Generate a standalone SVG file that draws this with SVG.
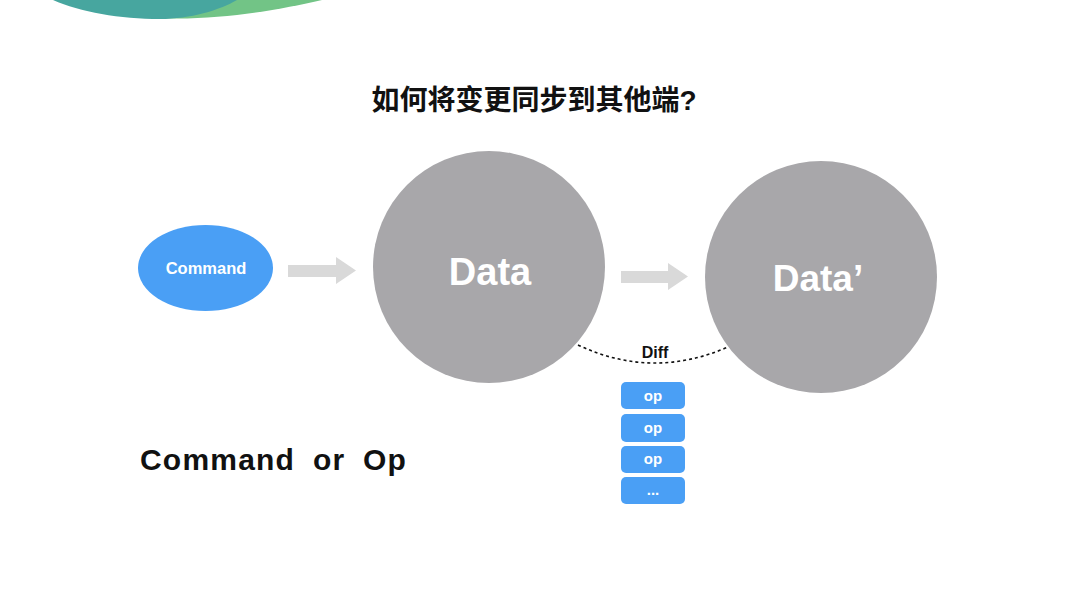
<svg xmlns="http://www.w3.org/2000/svg" width="1080" height="608" viewBox="0 0 1080 608">
<style>
.t{font-family:"Liberation Sans","Noto Sans CJK SC",sans-serif;font-weight:bold}
.w{fill:#ffffff}
.blue{fill:#4a9ff5}
.gray{fill:#a8a7aa}
.arrow{fill:#d9d9d9}
.op{fill:#4a9ff5}
</style>
<rect width="1080" height="608" fill="#ffffff"/>
<g id="decoration">
<path d="M130 16 C200 24 270 12 322 0 L200 0 Z" fill="#72c486"/>
<path d="M53 0 C80 12 120 19 160 19 C190 19 220 10 237 0 Z" fill="#47a69f"/>
</g>
<text class="t" x="534" y="110" font-size="28" text-anchor="middle" fill="#111">如何将变更同步到其他端?</text>
<g id="command">
<ellipse class="blue" cx="205.5" cy="268" rx="67.5" ry="43"/>
<text class="t w" x="206" y="274" font-size="16.5" text-anchor="middle">Command</text>
</g>
<g id="data">
<circle class="gray" cx="489" cy="267" r="116"/>
<text class="t w" x="490" y="285" font-size="38" text-anchor="middle">Data</text>
</g>
<g id="data2">
<circle class="gray" cx="821" cy="277" r="116"/>
<text class="t w" x="818" y="291" font-size="37" text-anchor="middle">Data’</text>
</g>
<g id="connectors">
<path class="arrow" d="M288 265 L336 265 L336 257 L356 270.5 L336 284 L336 277 L288 277 Z"/>
<path class="arrow" d="M621 271 L668 271 L668 263 L688 276.5 L668 290 L668 283 L621 283 Z"/>
<path d="M578 345 Q652 380 728 347" fill="none" stroke="#111" stroke-width="1.6" stroke-dasharray="3 3"/>
</g>
<text class="t" x="655" y="358" font-size="16" text-anchor="middle" fill="#111">Diff</text>
<g id="ops">
<rect class="op" x="621" y="382" width="64" height="27" rx="5"/>
<text class="t w" x="653" y="401" font-size="15" text-anchor="middle">op</text>
<rect class="op" x="621" y="414" width="64" height="28" rx="5"/>
<text class="t w" x="653" y="433" font-size="15" text-anchor="middle">op</text>
<rect class="op" x="621" y="446" width="64" height="27" rx="5"/>
<text class="t w" x="653" y="464" font-size="15" text-anchor="middle">op</text>
<rect class="op" x="621" y="477" width="64" height="27" rx="5"/>
<text class="t w" x="653" y="495" font-size="15" text-anchor="middle">...</text>
</g>
<text class="t" y="470" font-size="30" letter-spacing="1.2" fill="#111"><tspan x="140">Command</tspan><tspan x="313">or</tspan><tspan x="363">Op</tspan></text>
</svg>
